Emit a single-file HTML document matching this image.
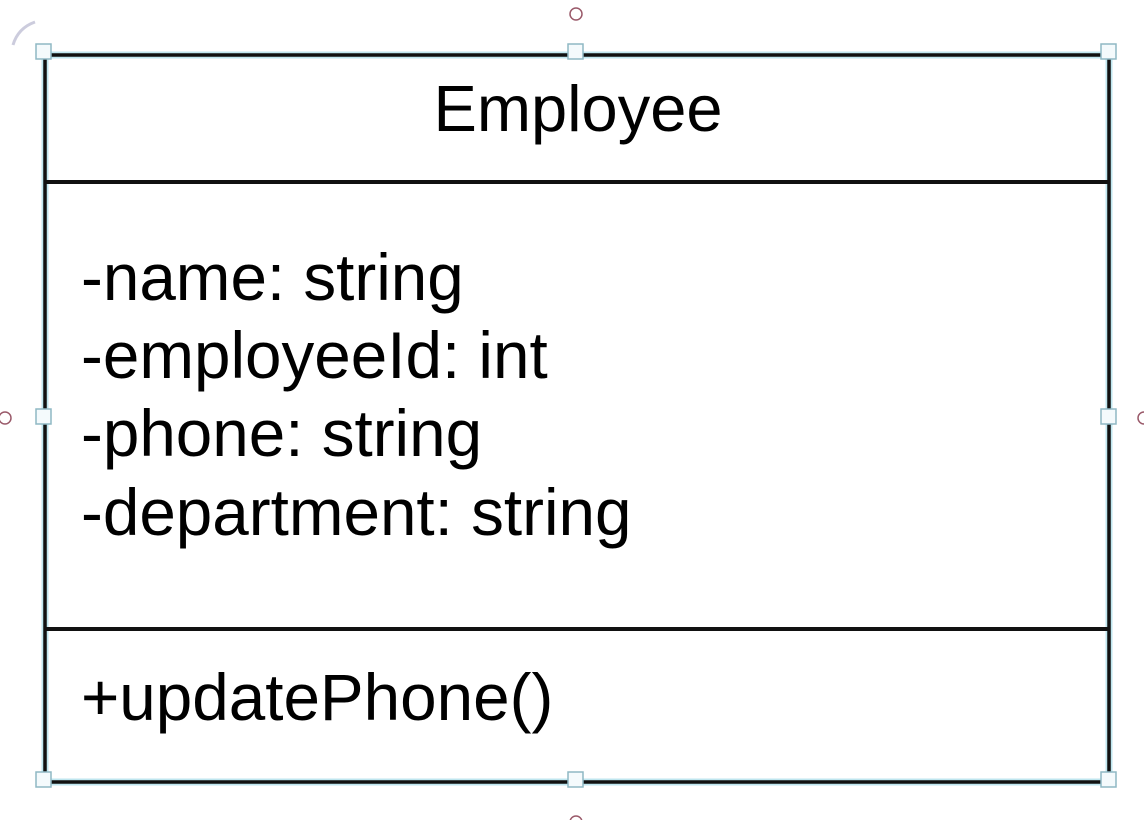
<!DOCTYPE html>
<html><head><meta charset="utf-8"><style>
html,body{margin:0;padding:0;background:#fff;width:1144px;height:820px;overflow:hidden}
</style></head><body>
<svg width="1144" height="820" xmlns="http://www.w3.org/2000/svg" style="display:block">
<g fill="none">
<rect x="45" y="55" width="1064" height="727" stroke="#bfe6ef" stroke-width="7"/>
<rect x="45" y="55" width="1064" height="727" stroke="#111" stroke-width="3.5"/>
<line x1="45" y1="182" x2="1109" y2="182" stroke="#111" stroke-width="4"/>
<line x1="45" y1="629" x2="1109" y2="629" stroke="#111" stroke-width="4"/>
</g>
<g font-family="Liberation Sans, Arial, sans-serif" font-size="65.6" fill="#000">
<text x="578" y="131" text-anchor="middle" font-size="65">Employee</text>
<text x="81" y="300">-name: string</text>
<text x="81" y="378">-employeeId: int</text>
<text x="81" y="456">-phone: string</text>
<text x="81" y="535">-department: string</text>
<text x="81" y="720">+updatePhone()</text>
</g>
<g fill="#f4fafc" stroke="#8fb8c4" stroke-width="1.5">
<rect x="36" y="44" width="15" height="15"/>
<rect x="568" y="44" width="15" height="15"/>
<rect x="1101" y="44" width="15" height="15"/>
<rect x="36" y="409" width="15" height="15"/>
<rect x="1101" y="409" width="15" height="15"/>
<rect x="36" y="772" width="15" height="15"/>
<rect x="568" y="772" width="15" height="15"/>
<rect x="1101" y="772" width="15" height="15"/>
</g>
<g fill="none" stroke="#9a5a6a" stroke-width="1.5">
<circle cx="576" cy="14" r="6"/>
<circle cx="5" cy="418" r="6"/>
<circle cx="1144" cy="418" r="6"/>
<circle cx="576" cy="822" r="6"/>
</g>
<path d="M13 45 Q18 28 35 22" stroke="#ccd" stroke-width="3" fill="none"/>
</svg>
</body></html>
